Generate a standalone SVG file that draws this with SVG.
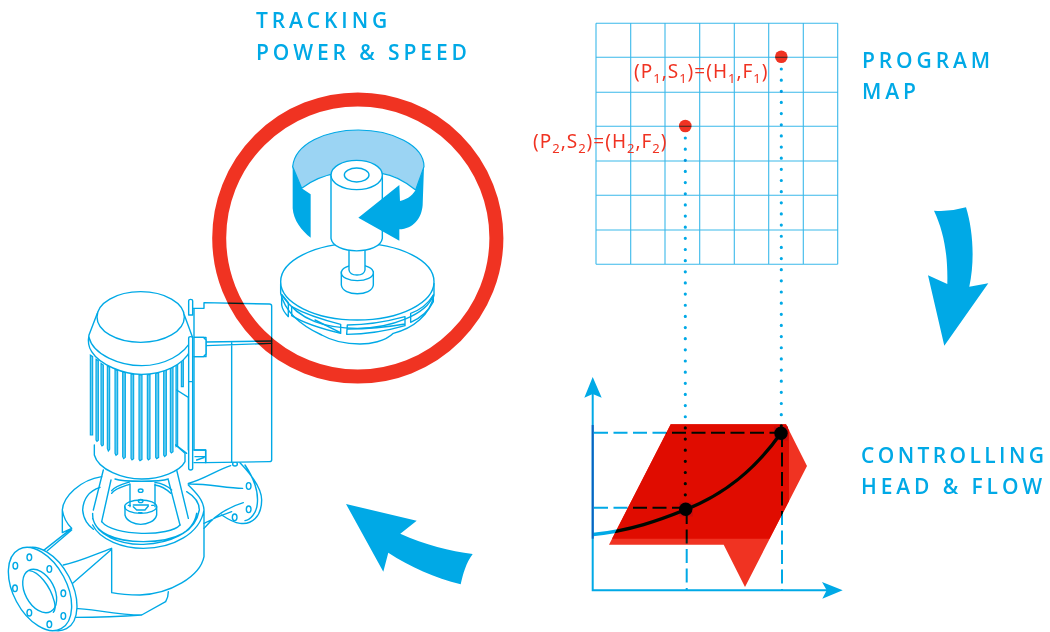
<svg xmlns="http://www.w3.org/2000/svg" width="1050" height="632" viewBox="0 0 1050 632">
<style>
.h{font-family:"Open Sans","Noto Sans",sans-serif;font-weight:600;font-size:21px;letter-spacing:3.9px;fill:#00a9e6}
.c{letter-spacing:3.4px}
.r{font-family:"Noto Sans","Open Sans",sans-serif;font-size:19px;letter-spacing:1px;fill:#f03322}
.s{font-size:13px}
.p{fill:none;stroke:#00a9e6;stroke-width:4.2;stroke-linejoin:round;stroke-linecap:round}
.pw{fill:#fff;stroke:#00a9e6;stroke-width:4.2;stroke-linejoin:round}
.f{fill:#00a9e6;fill-opacity:.6;stroke:#00a9e6;stroke-width:3.4}
.b{fill:#00a9e6}
.m{mix-blend-mode:multiply}
.dash{fill:none;stroke:#00a9e6;stroke-width:2;stroke-dasharray:14 5.5}
.dot{fill:none;stroke:#00a9e6;stroke-width:3.2;stroke-linecap:round;stroke-dasharray:0 11.15}
.grid{stroke:#3bb9ea;stroke-width:1.1;fill:none}
</style>
<g id="pump" transform="translate(0,280) scale(.33333)">
<path class="p" d="M305,590C240,600 190,650 187,690V758L215,745C200,730 190,710 187,690M215,745L130,812M215,750L142,812"/>
<path class="p" d="M565,610C610,600 650,570 692,557M565,612C620,610 680,625 728,625M612,745C650,700 690,680 730,668M612,730C650,710 665,705 695,695"/>
<path class="p" d="M720,548C760,590 785,630 785,660C785,710 755,735 720,730C700,728 680,715 665,705M735,555C765,600 775,640 772,670C770,700 750,720 735,722"/>
<ellipse class="p" cx="746" cy="618" rx="7" ry="10"/><ellipse class="p" cx="746" cy="688" rx="7" ry="10"/><ellipse class="p" cx="704" cy="712" rx="7" ry="10"/><ellipse class="p" cx="705" cy="552" rx="7" ry="6"/>
<path class="p" d="M612,690V830C600,890 510,942 420,945Q370,945 335,938V810M612,690C610,660 590,640 565,615M278,735C300,780 370,805 430,805C520,805 600,760 612,690"/>
<path class="p" d="M248,690C250,650 270,632 300,622M248,690C250,720 265,735 280,748M278,700C275,760 350,785 430,785C520,785 585,760 598,690C598,670 585,650 560,635M278,715C290,765 360,795 430,793C510,790 580,760 590,700"/>
<path class="p" d="M335,805C280,825 240,845 190,855M335,808L218,910M222,985C270,985 350,1005 425,1005L497,965Q505,950 505,935M222,1012C290,1012 360,1010 425,1005"/>
<path class="p" d="M305,725C340,770 510,770 540,735M335,640C345,625 375,618 388,613M335,632C345,618 375,610 388,606M465,615C485,618 500,628 512,640M465,607C485,610 505,620 515,630"/>
<path class="p" d="M390,612V680M465,612V680M375,680V705C380,725 405,733 422,733C440,733 465,725 470,705V680"/>
<ellipse class="p" cx="422" cy="680" rx="48" ry="20"/><ellipse class="p" cx="422" cy="632" rx="7" ry="5"/><ellipse class="p" cx="422" cy="663" rx="7" ry="5"/>
<path class="p" d="M400,680L410,690H435L445,678M400,675H445M385,676h6M455,676h6M416,698h10"/>
<path class="p" d="M310,570L280,690M333,600L305,725M530,570L565,715M505,600L540,735"/>
<ellipse class="pw" cx="136" cy="927" rx="80" ry="135" transform="rotate(-28 136 927)"/>
<ellipse class="pw" cx="120" cy="927" rx="80" ry="135" transform="rotate(-28 120 927)"/>
<ellipse class="pw" cx="119" cy="933" rx="44" ry="70" transform="rotate(-28 119 933)"/>
<path class="p" d="M88,872C115,875 150,915 163,965C168,985 165,992 160,997"/>
<g class="p"><ellipse cx="46" cy="857" rx="7" ry="10"/><ellipse cx="88" cy="832" rx="7" ry="10"/><ellipse cx="148" cy="867" rx="7" ry="10"/><ellipse cx="190" cy="940" rx="7" ry="10"/><ellipse cx="190" cy="1008" rx="7" ry="10"/><ellipse cx="148" cy="1033" rx="7" ry="10"/><ellipse cx="88" cy="998" rx="7" ry="10"/><ellipse cx="45" cy="925" rx="7" ry="10"/></g>
<path fill="#fff" d="M283,495V525C295,570 370,597 425,597C480,597 540,575 555,545V520L527,495Z"/>
<path class="p" d="M283,495V525C295,570 370,597 425,597C480,597 540,575 555,545V520L527,495"/>
<path class="p" d="M345,597C370,606 480,606 505,597"/>
<path class="f" d="M271,225V465h7V230ZM288,238V480l3,4 4,-3V242ZM303,250V493l3,5 4,-3V255ZM322,258V505l3,8 4,-5V262ZM345,268V520l3,6 5,-4V272ZM368,275V530l3,6 5,-4V277ZM393,282V535l3,5 5,-4V283ZM417,284V538l3,4 6,-4V285ZM442,284V535l3,5 5,-4V283ZM467,280V532l3,4 6,-4V278ZM491,272V525l3,5 5,-5V269ZM511,264V515l3,4 5,-4V260ZM528,255V500l5,-2V250ZM544,240V320h6V232Z"/>
<path class="pw" d="M292,100L267,165C262,190 268,205 275,215C300,255 370,283 425,283C490,283 550,255 572,210L577,170L553,105Z"/>
<path class="p" d="M267,172C280,225 360,257 425,257C490,257 555,225 577,175"/>
<ellipse class="pw" cx="422" cy="111" rx="131" ry="76"/>
<path class="pw" d="M578,85H612V68L808,72Q815,72 815,78V540Q815,545 808,545L617,548V510H582V230H618V172H582V85Z"/>
<path class="p" d="M618,186L815,183M618,197L815,190M695,187V547M530,330L565,352V510M528,495L560,520"/>
<path class="pw" d="M566,62Q566,58 572,58T578,62V105H566ZM566,175Q566,170 572,170T578,175V305H566ZM566,305H578V565Q578,570 572,570T566,565Z"/>
<path class="pw" d="M582,172H610L618,180V222L610,230H582Z"/>
<path class="p" d="M582,510H617V548H582M585,530H615M590,540L612,533"/>
</g>
<g id="impeller" transform="translate(270,125) scale(.33333)">
<path d="M68,125C75,55 170,15 265,15C365,15 462,60 462,125L437,195C400,165 370,150 335,145C250,130 160,140 95,190Z" fill="#9bd4f3" stroke="#00a9e6" stroke-width="3.6" stroke-linejoin="round"/>
<path class="b" d="M68,125V250C70,285 95,318 122,338V208L95,190Z"/>
<path class="pw" d="M32,475V505C45,560 90,600 155,630C190,650 230,657 270,657C300,657 345,650 370,625C430,610 480,570 492,510V475Z"/>
<path class="p" d="M35,510C90,590 170,610 262,610C360,610 470,570 490,510"/>
<ellipse class="pw" cx="262" cy="470" rx="230" ry="115"/>
<path class="p" d="M35,508L55,533V575C45,565 37,553 35,540ZM65,545V572C110,600 170,615 212,625V598C160,585 110,570 65,545ZM135,585L210,622M232,600C290,600 350,590 405,575V602C350,618 290,628 230,628ZM232,612C300,612 360,605 405,597M422,565V592C450,580 475,560 490,530V510C475,535 450,555 422,565Z"/>
<path class="pw" d="M214,440V480C218,515 306,515 310,480V440Z"/>
<ellipse class="pw" cx="262" cy="443" rx="48" ry="24"/>
<path class="pw" d="M237,365V435C240,455 282,455 285,435V365Z"/>
<path class="pw" d="M183,150V340C190,390 330,390 337,340V150Z"/>
<ellipse class="pw" cx="260" cy="150" rx="77" ry="44"/>
<ellipse class="p" cx="260" cy="150" rx="37" ry="21"/>
<path class="b" d="M388,180L265,278L388,347V313C430,312 455,280 458,240L462,125L437,195C425,215 405,225 390,228Z"/>
</g>
<circle id="tracking-ring" class="m" cx="357.8" cy="238" r="138.6" fill="none" stroke="#f03322" stroke-width="14"/>
<g id="program-map">
<path class="grid" d="M596,23.3V264.3M630.7,23.3V264.3M665,23.3V264.3M699.7,23.3V264.3M734.3,23.3V264.3M768.7,23.3V264.3M803.3,23.3V264.3M837.7,23.3V264.3M596,23.3H837.7M596,57.3H837.7M596,92.3H837.7M596,126.3H837.7M596,161H837.7M596,195.3H837.7M596,230H837.7M596,264.3H837.7"/>
<circle class="m" cx="781.3" cy="56.7" r="6.3" fill="#f03322"/>
<circle class="m" cx="685.3" cy="126" r="6.3" fill="#f03322"/>
<text class="r" x="634" y="78">(P<tspan class="s" dy="5">1</tspan><tspan dy="-5">,S</tspan><tspan class="s" dy="5">1</tspan><tspan dy="-5">)=(H</tspan><tspan class="s" dy="5">1</tspan><tspan dy="-5">,F</tspan><tspan class="s" dy="5">1</tspan><tspan dy="-5">)</tspan></text>
<text class="r" x="533" y="148">(P<tspan class="s" dy="5">2</tspan><tspan dy="-5">,S</tspan><tspan class="s" dy="5">2</tspan><tspan dy="-5">)=(H</tspan><tspan class="s" dy="5">2</tspan><tspan dy="-5">,F</tspan><tspan class="s" dy="5">2</tspan><tspan dy="-5">)</tspan></text>
</g>
<g id="chart">
<path fill="#f03322" d="M670.7,424.3H786L807,466L745,587L723.7,544.7H609Z"/>
<path fill="#e00c00" d="M670.7,424.3H786L789,430.3V501L769.5,538.7H612Z"/>
<path fill="#c80b0b" d="M679,502.5h14v14h-14ZM774,426.5h14v14h-14Z"/>
</g>
<g id="connectors">
<g class="m">
<path class="dot" d="M685.3,138V498M781.3,69V430"/>
<path class="dash" d="M594,432.7H781M594,507.7H686M782,433V590M686.7,510V590"/>
<path fill="none" stroke="#00a9e6" stroke-width="3.4" d="M593,534.5C630,531 660,520 686,509.5C725,494 755,470 781,433"/>
</g>
<path fill="none" stroke="#00a9e6" stroke-width="2" d="M592.7,394V590.3H827"/>
<path fill="none" stroke="#0a62c0" stroke-width="2" d="M592.7,425V538.7"/>
<path class="b" d="M592.7,377L601.7,397.7L592.7,394L584.3,397.7Z"/>
<path class="b" d="M842.7,590.3L822,582L826.7,590.3L822.3,598.7Z"/>
<circle cx="685.7" cy="509.3" r="6.7" fill="#000"/>
<circle cx="781" cy="433.3" r="6.7" fill="#000"/>
<path class="b" d="M934,210.7Q950,212 966,207.3C973,230 975,260 969.3,286.7L988.3,283.3L944.3,345.7L928,275.3L947.3,284C948,255 944,232 934,210.7Z"/>
<path class="b" d="M346,504L416.7,520.7L400.3,533.7C425,545 450,551 472.7,554C466,563 463,574 460.7,584.3C435,578 410,567 388.3,552.7L383.3,571.7Z"/>
</g>
<g id="labels">
<text class="h" x="256" y="28">TRACKING</text>
<text class="h" x="256" y="60">POWER &amp; SPEED</text>
<text class="h" x="862" y="68">PROGRAM</text>
<text class="h" x="862" y="99">MAP</text>
<text class="h c" x="861" y="463">CONTROLLING</text>
<text class="h" x="861" y="494">HEAD &amp; FLOW</text>
</g>
</svg>
